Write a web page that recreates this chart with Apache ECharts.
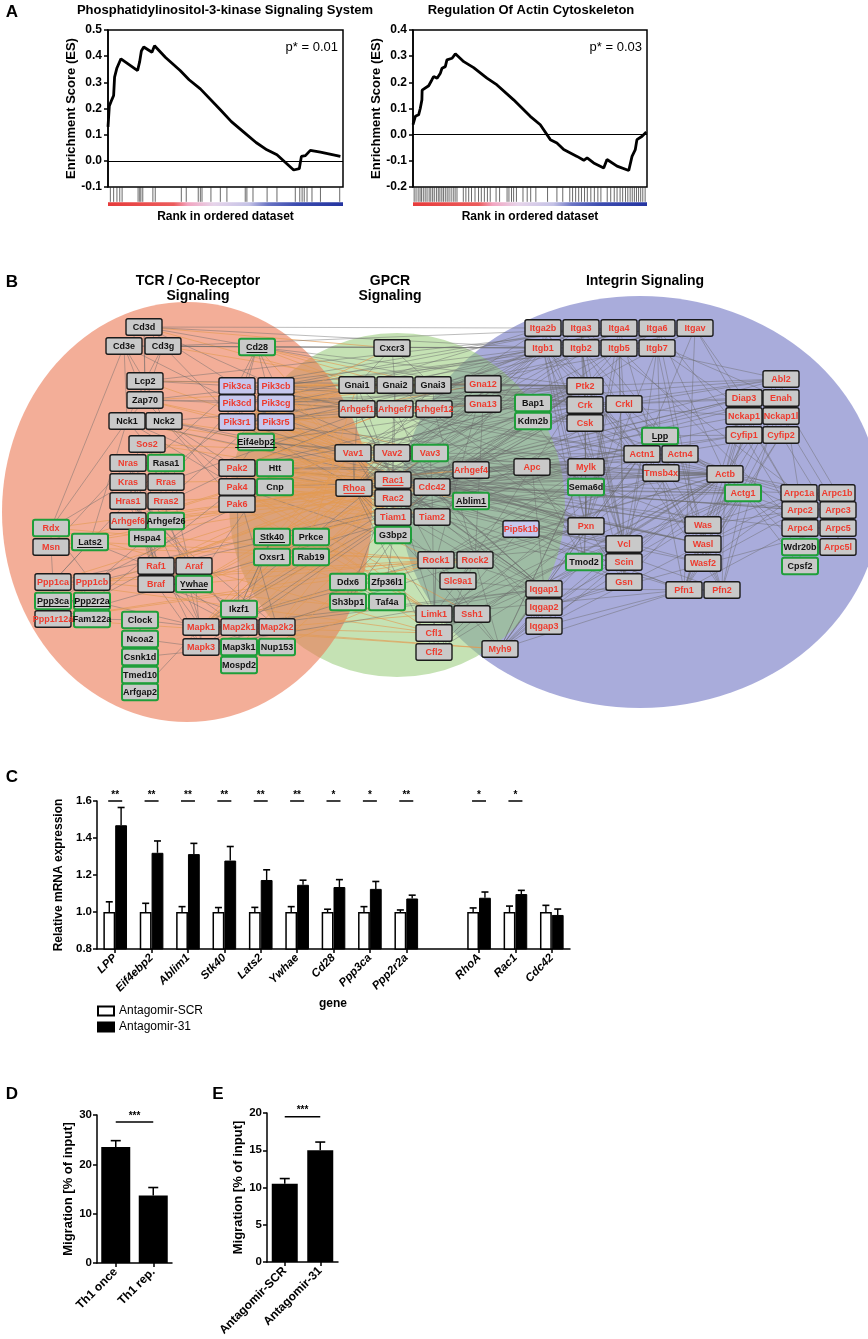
<!DOCTYPE html>
<html><head><meta charset="utf-8">
<script src="https://cdn.jsdelivr.net/npm/echarts@6/dist/echarts.min.js"></script>
<style>html,body{margin:0;padding:0;background:#fff}#c{width:868px;height:1339px}</style>
</head><body><div id="c"></div>
<script>
const FONT = "'Liberation Sans', Arial, sans-serif";

/* ---------- Panel A data ---------- */
const esRankLeft = [0,0.57,1.7,2.4,2.8,3.8,5.5,12.6,13.5,14.2,15.2,18.7,19.8,24.5,30.7,34.5,39.3,47.8,52.5,58.4,63.0,67.6,71.9,79.0,81.4,82.3,84.0,86.1,90.4,98.9];
const esLeft = [0.13,0.21,0.235,0.25,0.32,0.355,0.39,0.345,0.38,0.42,0.435,0.415,0.44,0.395,0.345,0.31,0.275,0.195,0.15,0.105,0.07,0.042,0.023,-0.035,-0.03,0.017,0.02,0.04,0.033,0.017];
const hitsLeft = [1.0,2.4,3.8,5.0,6.0,12.8,13.5,14.0,14.8,19.1,20.1,31.2,33.3,38.4,39.3,40.0,43.8,47.8,50.6,58.4,59.1,61.7,67.7,71.9,79.7,81.6,82.6,83.5,84.7,86.8,90.4,98.6];
const esRankRight = [0,1,2.4,3.1,3.8,3.9,6.7,8.1,8.8,10.3,11.7,12.4,13.8,14.5,16.7,18.1,21.7,25.9,31.6,35.9,43.0,50.1,54.4,58.7,61.5,64.4,70.1,73.0,74.4,77.2,81.5,82.9,87.2,92.2,93.6,95.0,95.7,97.9,99.7];
const esRight = [0.038,0.07,0.076,0.10,0.133,0.17,0.187,0.21,0.222,0.216,0.235,0.254,0.26,0.286,0.292,0.309,0.279,0.256,0.216,0.19,0.133,0.07,0.038,-0.019,-0.032,-0.057,-0.083,-0.098,-0.089,-0.108,-0.127,-0.095,-0.12,-0.137,-0.083,-0.057,-0.019,-0.006,0.01];
const hitsRight = [0.5,1.3,2.2,3.0,3.6,4.4,5.2,6.0,6.9,7.6,8.4,9.1,10.0,10.8,11.5,12.3,13.0,13.8,14.6,15.4,16.3,17.2,18.0,18.8,21.5,22.6,23.8,25.0,26.5,28.0,29.2,30.5,31.8,33.0,35.5,37.0,40.2,41.0,42.1,43.0,44.2,47.0,48.8,50.3,52.5,57.5,61.5,64.0,67.0,68.2,69.5,70.8,72.0,73.3,74.5,76.0,77.5,79.0,80.3,83.0,84.5,86.0,87.2,88.5,89.6,90.8,91.8,92.8,93.7,94.6,95.5,96.4,97.3,98.2,99.2];
const pLeft = 'p* = 0.01', pRight = 'p* = 0.03';

/* ---------- Panel B data (network) ---------- */
// name  x  y  flags (r = red label, g = green frame, p = PI3K lilac, u = underlined)
const tcrNodes = ['Cd3d 144 327','Cd3e 124 346','Cd3g 163 346','Cd28 257 347 gu','Lcp2 145 381','Zap70 145 400','Nck1 127 421','Nck2 164 421',
'Pik3ca 237 386 rp','Pik3cb 276 386 rp','Pik3cd 237 403 rp','Pik3cg 276 403 rp','Pik3r1 237 422 rp','Pik3r5 276 422 rp','Eif4ebp2 256 442 gu',
'Sos2 147 444 r','Nras 128 463 r','Rasa1 166 463 g','Kras 128 482 r','Rras 166 482 r','Hras1 128 501 r','Rras2 166 501 r',
'Pak2 237 468 r','Htt 275 468 g','Pak4 237 487 r','Cnp 275 487 g','Pak6 237 504 r','Arhgef6 128 521 r','Arhgef26 166 521 g',
'Rdx 51 528 rg','Msn 51 547 r','Lats2 90 542 gu','Hspa4 147 538 g','Stk40 272 537 gu','Oxsr1 272 557 g','Prkce 311 537 g','Rab19 311 557 g',
'Raf1 156 566 r','Araf 194 566 r','Braf 156 584 r','Ywhae 194 584 gu','Ppp1ca 53 582 r','Ppp1cb 92 582 r','Ppp3ca 53 601 gu','Ppp2r2a 92 601 gu',
'Ppp1r12a 53 619 r','Fam122a 92 619 g','Clock 140 620 g','Ncoa2 140 639 g','Csnk1d 140 657 g','Tmed10 140 675 g','Arfgap2 140 692 g',
'Ikzf1 239 609 g','Mapk1 201 627 r','Map2k1 239 627 r','Map2k2 277 627 r','Mapk3 201 647 r','Map3k1 239 647 g','Nup153 277 647 g','Mospd2 239 665 g'];
const gpcrNodes = ['Cxcr3 392 348','Gnai1 357 385','Gnai2 395 385','Gnai3 433 385','Gna12 483 384 r','Gna13 483 404 r','Arhgef1 357 409 r','Arhgef7 395 409 r','Arhgef12 434 409 r',
'Vav1 353 453 r','Vav2 392 453 r','Vav3 430 453 rg','Arhgef4 471 470 r','Rac1 393 480 ru','Rhoa 354 488 ru','Cdc42 432 487 r','Ablim1 471 501 gu',
'Rac2 393 498 r','Tiam1 393 517 r','Tiam2 432 517 r','G3bp2 393 535 g','Rock1 436 560 r','Rock2 475 560 r','Slc9a1 458 581 r',
'Ddx6 348 582 g','Zfp36l1 387 582 g','Sh3bp1 348 602 g','Taf4a 387 602 g','Limk1 434 614 r','Ssh1 472 614 r','Cfl1 434 633 r','Cfl2 434 652 r','Myh9 500 649 r'];
const integrinNodes = ['Bap1 533 403 g','Kdm2b 533 421 g','Apc 532 467 r','Pip5k1b 521 529 rp','Iqgap1 544 589 r','Iqgap2 544 607 r','Iqgap3 544 626 r',
'Itga2b 543 328 r','Itga3 581 328 r','Itga4 619 328 r','Itga6 657 328 r','Itgav 695 328 r','Itgb1 543 348 r','Itgb2 581 348 r','Itgb5 619 348 r','Itgb7 657 348 r',
'Ptk2 585 386 r','Crk 585 405 r','Csk 585 423 r','Crkl 624 404 r','Abl2 781 379 r','Diap3 744 398 r','Enah 781 398 r','Nckap1 744 416 r','Nckap1l 781 416 r',
'Cyfip1 744 435 r','Cyfip2 781 435 r','Lpp 660 436 gu','Actn1 642 454 r','Actn4 680 454 r','Tmsb4x 661 473 r','Actb 725 474 r','Actg1 743 493 rg',
'Mylk 586 467 r','Sema6d 586 487 g','Arpc1a 799 493 r','Arpc1b 837 493 r','Arpc2 800 510 r','Arpc3 838 510 r','Arpc4 800 528 r','Arpc5 838 528 r',
'Wdr20b 800 547 g','Arpc5l 838 547 r','Cpsf2 800 566 g','Pxn 586 526 r','Vcl 624 544 r','Scin 624 562 r','Gsn 624 582 r','Tmod2 584 562 g',
'Was 703 525 r','Wasl 703 544 r','Wasf2 703 563 r','Pfn1 684 590 r','Pfn2 722 590 r'];
const edgeLists = [
'Cd3d: Cd3e Cd3g Lcp2 Zap70 Cd28 Pik3ca Pik3cb Gnai1 Cxcr3 Itga2b Itgb1',
'Cd3e: Lcp2 Nck1 Zap70 Cd28 Pik3cd Itgb2',
'Cd3g: Lcp2 Zap70 Cd28 Pik3r1 Gnai2 Itga4',
'Cd28: Pik3ca Pik3cb Pik3cd Pik3r1 Pik3r5 Gnai1 Gnai2 Gnai3 Itgb1 Itgb2 Vav1 Crk Ptk2',
'Lcp2: Zap70 Nck1 Nck2 Vav1 Pik3ca Gnai1 Itga4 Ptk2',
'Zap70: Nck1 Nck2 Vav1 Vav2 Pik3cd Gnai3 Itgb5 Crk',
'Nck1: Sos2 Pak2 Pak4 Rdx Vav1 Rac1 Wasl Lats2',
'Nck2: Pak2 Pak4 Pak6 Vav2 Was Wasl Ptk2',
'Pik3ca: Rac1 Vav1 Gnai1 Gna12 Ptk2 Crk Actn1 Itgb1 Actb Vcl Itga3',
'Pik3cb: Gnai2 Gnai3 Rac2 Arhgef1 Itga3 Itgb2 Crkl',
'Pik3cd: Vav2 Rac1 Cdc42 Arhgef7 Pxn Ptk2 Itga6 Vav1 Vav3 Rac2',
'Pik3cg: Gnai1 Gnai2 Gnai3 Rhoa Cxcr3 Itgav Csk',
'Pik3r1: Vav3 Rac1 Tiam1 Ptk2 Crk Itgb7 Abl2 Actb Cdc42 Rhoa Iqgap1 Pxn',
'Pik3r5: Gna12 Gna13 Rac2 Arhgef12 Itgb5',
'Eif4ebp2: Rac1 Pak2 Bap1 Mylk Apc',
'Sos2: Nras Kras Hras1 Rras Raf1 Vav1 Rac1 Mapk1',
'Nras: Raf1 Araf Braf Mapk1 Rasa1 Msn',
'Kras: Raf1 Braf Map2k1 Rdx Pik3ca',
'Hras1: Raf1 Araf Map2k2 Ppp1ca Pik3cb',
'Rras: Pik3cd Rac1 Itgb1',
'Rras2: Pik3cg Cdc42',
'Rasa1: Hras1 Arhgef26 Ywhae',
'Pak2: Rac1 Cdc42 Limk1 Rac2 Vav2 Rock1 Pxn Crk Ptk2 Itgb1 Actb Arpc2 Vav1 Vav3 Rhoa Tiam2 Arhgef7',
'Pak4: Cdc42 Limk1 Rhoa Arhgef4 Ssh1 Vav3 Ptk2 Iqgap1 Actb Rac1 Rac2 Tiam1',
'Pak6: Rac1 Limk1 Cfl1 Tiam1 Cdc42 Vav1 Rhoa',
'Htt: Ablim1 Apc Ywhae Vav2 Rac2 Cdc42',
'Cnp: Arhgef4 Tiam2 Rac1 Rhoa Tiam1',
'Arhgef6: Rac1 Cdc42 Pak2 Rac2 Vav1',
'Arhgef26: Rhoa Ppp1r12a',
'Rdx: Msn Rhoa Cd3e Ppp1cb Rock1 Cfl1',
'Msn: Rhoa Rock2 Ppp1ca Vav1 Cdc42',
'Lats2: Ywhae Rock1 Ppp1ca',
'Hspa4: Raf1 Mapk3',
'Stk40: Ikzf1 Map2k1 Vav1 Rac1 Rhoa Tiam1',
'Oxsr1: Prkce Rab19 Ddx6',
'Prkce: Rac1 Gnai1 Vav3 Rhoa Cdc42 Rac2 Limk1',
'Raf1: Map2k1 Map2k2 Mapk1 Ywhae Rac1 Rhoa Rac2 Vav2',
'Araf: Map2k1 Braf Mapk3',
'Braf: Map2k1 Map2k2 Mapk3 Ywhae',
'Ywhae: Rac1 Rhoa Rock1 Cdc42 Tiam1',
'Ppp1ca: Ppp1cb Rhoa Rock1 Mylk Ppp1r12a Cfl1',
'Ppp1cb: Ppp1r12a Rock2 Mylk Limk1',
'Ppp3ca: Ppp2r2a Cnp Rac1',
'Ppp2r2a: Mapk1 Raf1 Pak4',
'Ppp1r12a: Rock1 Rock2 Myh9 Mylk',
'Fam122a: Ppp2r2a Clock',
'Clock: Ncoa2 Csnk1d Mapk1',
'Ncoa2: Csnk1d Mapk3',
'Csnk1d: Tmed10 Map3k1',
'Arfgap2: Tmed10 Mapk1',
'Mapk1: Map2k1 Map2k2 Mapk3 Vav1 Ptk2 Pxn Myh9 Iqgap1 Cfl1 Actb Itgb1 Crk Rac2 Rac1 Rhoa Vav2 Tiam1',
'Map2k1: Mapk3 Map3k1 Rac1 Pak2 Iqgap1',
'Map2k2: Mapk3 Map3k1 Pak4 Cdc42 Rac1 Rock1 Limk1',
'Mapk3: Ptk2 Pxn Iqgap1',
'Map3k1: Mospd2 Nup153 Rac1',
'Ikzf1: Map2k1 Stk40',
'Nup153: Taf4a Ddx6',
'Cxcr3: Gnai1 Gnai2 Gnai3',
'Gnai1: Arhgef1 Gna12 Rac1 Ptk2 Itgb1 Pik3r1 Pik3r5 Vav3 Itga2b',
'Gnai2: Arhgef7 Gna13 Vav2 Pxn Itga4',
'Gnai3: Arhgef12 Gna12 Rhoa Crk Itgb2',
'Gna12: Arhgef1 Arhgef12 Rhoa Rock1 Itga3 Ptk2',
'Gna13: Arhgef1 Arhgef12 Rhoa Rock2 Ptk2 Csk',
'Arhgef1: Rhoa Rac1 Rock1',
'Arhgef7: Rac1 Cdc42 Pak2 Pxn Ptk2 Itgb1 Actn1 Was',
'Arhgef12: Rhoa Rock2 Gna13',
'Vav1: Rac1 Rac2 Rhoa Cdc42 Tiam1 Itgb2 Crk Actb Itga2b Itgb1 Ptk2 Pxn Actn1 Iqgap1 Pak4 Pik3cb',
'Vav2: Rac1 Rhoa Cdc42 Iqgap1 Itga4',
'Vav3: Rac1 Rhoa Cdc42 Crkl Itgb1',
'Arhgef4: Cdc42 Apc Actn1',
'Rac1: Rac2 Cdc42 Tiam1 Tiam2 Pak2 Iqgap1 Iqgap2 Wasf2 Cyfip1 Nckap1 Arpc2 Pip5k1b Ptk2 Crk Limk1 Actb Itgb2 Itga4 Abl2 Diap3 Enah Was Wasl Arpc1a Pfn1 Actn4 Tmsb4x Vcl',
'Rhoa: Rock1 Rock2 Limk1 Pip5k1b Diap3 Mylk Actg1 Cfl2 Myh9 Itgb1 Itga3 Itga6 Ptk2 Vcl Actb Actn1 Pfn1 Gsn',
'Cdc42: Was Wasl Iqgap1 Iqgap3 Pak4 Arpc3 Limk1 Enah Diap3 Itgb1 Ptk2 Crk Pxn Actb Actg1 Cyfip1 Arpc4 Pfn2',
'Ablim1: Actb Actg1 Lpp',
'Rac2: Tiam1 Cyfip2 Nckap1l Wasf2',
'Tiam1: Tiam2 Rac1 Apc Ptk2 Crk Actb Itgb5',
'Tiam2: Crkl Iqgap1',
'G3bp2: Ddx6 Zfp36l1',
'Pip5k1b: Vcl Gsn Scin Pfn1 Cfl1',
'Rock1: Limk1 Mylk Myh9 Cfl1 Actb Slc9a1 Pxn Vcl Actn1 Tmsb4x Mapk1',
'Rock2: Limk1 Myh9 Cfl2 Slc9a1 Mylk',
'Slc9a1: Ptk2 Iqgap1',
'Ddx6: Zfp36l1 Sh3bp1 Taf4a',
'Sh3bp1: Rac1 Cdc42',
'Limk1: Cfl1 Cfl2 Ssh1 Actb Actg1 Pfn1 Tmsb4x',
'Ssh1: Cfl1 Cfl2 Actb',
'Cfl1: Actb Actg1 Actn1',
'Cfl2: Actb Actn4',
'Myh9: Actb Actg1 Iqgap1 Mylk Tmod2 Pfn1 Actn1 Pxn Vcl Iqgap2',
'Iqgap1: Actb Rac1 Cdc42 Vcl Pfn2 Actn1',
'Iqgap2: Actg1 Arpc5 Gsn',
'Iqgap3: Actb Pfn1 Wasl',
'Itga2b: Itgb1 Itgb2 Ptk2 Actn1 Vcl Pxn Abl2',
'Itga3: Itgb1 Ptk2 Crk Vcl Actn4 Arpc1a',
'Itga4: Itgb1 Itgb7 Pxn Crkl Tmsb4x Enah',
'Itga6: Itgb1 Itgb5 Ptk2 Lpp Actb Cyfip1 Wasl',
'Itgav: Itgb5 Itgb7 Ptk2 Actn1 Arpc2 Diap3 Pfn1',
'Itgb1: Ptk2 Actn1 Vcl Pxn Csk Actg1 Tmod2',
'Itgb2: Actn4 Vcl Crk Scin Was',
'Itgb5: Ptk2 Vcl Pxn Arpc4 Gsn',
'Itgb7: Pxn Actn1 Cyfip2 Wasf2',
'Ptk2: Crk Crkl Csk Pxn Vcl Actn1 Abl2 Wasl Pfn2 Vav2 Vav3 Rac2 Gna12 Map2k1 Pik3cg',
'Crk: Crkl Abl2 Pxn Actb Diap3 Nckap1 Rac2',
'Crkl: Pxn Abl2 Wasf2 Enah',
'Csk: Pxn Actb Tmsb4x Gsn',
'Bap1: Kdm2b Actn1',
'Kdm2b: Sema6d',
'Apc: Mylk Actb Iqgap1 Tmod2',
'Mylk: Actb Actg1 Myh9',
'Sema6d: Tmod2 Pxn',
'Abl2: Enah Diap3 Nckap1 Actb Arpc1a',
'Diap3: Enah Actb Pfn1 Cyfip1',
'Enah: Actb Pfn1 Pfn2 Arpc1b Was',
'Nckap1: Cyfip1 Nckap1l Wasf2 Arpc2 Actb',
'Nckap1l: Cyfip2 Wasf2 Arpc3',
'Cyfip1: Cyfip2 Wasf2 Arpc4 Pfn1',
'Cyfip2: Wasf2 Arpc5 Actg1',
'Lpp: Actn1 Actn4 Vcl Actb Cyfip1',
'Actn1: Actn4 Vcl Actb Pxn Tmsb4x Gsn',
'Actn4: Actb Vcl Pfn2 Arpc1a',
'Tmsb4x: Actb Actg1 Pfn1 Pfn2',
'Actb: Actg1 Arpc1a Arpc1b Arpc2 Arpc3 Pfn1 Pfn2 Gsn Scin Tmod2 Wdr20b',
'Actg1: Arpc4 Arpc5 Pfn1 Pfn2 Was Wasl Cpsf2',
'Arpc1a: Arpc1b Arpc2 Was Wasl Wasf2',
'Arpc1b: Arpc3 Wasl',
'Arpc2: Arpc3 Arpc4 Wasf2 Was',
'Arpc3: Arpc5 Arpc5l',
'Arpc4: Arpc5 Wdr20b Pfn1',
'Arpc5: Arpc5l',
'Arpc5l: Wdr20b',
'Wdr20b: Cpsf2',
'Was: Wasl Wasf2 Pfn1',
'Wasl: Wasf2 Pfn2',
'Wasf2: Pfn1',
'Pxn: Vcl Tmod2 Gsn',
'Vcl: Scin Gsn Tmod2',
'Scin: Gsn',
'Pfn1: Pfn2'];
// signalling module areas: name, centre x, centre y, radius x, radius y
const modules = [['Integrin',640,502,240,206],['GPCR',397,505,168,172],['TCR',187,512,185,210]];

/* ---------- Panel C data ---------- */
const genes = ['LPP','Eif4ebp2','Ablim1','Stk40','Lats2','Ywhae','Cd28','Ppp3ca','Ppp2r2a','','RhoA','Rac1','Cdc42'];
const scrMean = [1,1,1,1,1,1,1,1,1,null,1,1,1];
const scrErr = [0.055,0.047,0.029,0.024,0.025,0.029,0.015,0.029,0.011,null,0.022,0.032,0.036];
const a31Mean = [1.469,1.32,1.313,1.278,1.173,1.147,1.135,1.125,1.073,null,1.077,1.097,0.984];
const a31Err = [0.096,0.064,0.058,0.076,0.055,0.025,0.04,0.04,0.018,null,0.031,0.02,0.032];
const sigC = ['**','**','**','**','**','**','*','*','**','','*','*',''];

/* ---------- Panels D / E data ---------- */
const dCats = ['Th1 once','Th1 rep.'];
const dMean = [23.5,13.7];
const dErr = [1.3,1.6];
const dSig = ['***',28.6];
const eCats = ['Antagomir-SCR','Antagomir-31'];
const eMean = [10.5,15.0];
const eErr = [0.7,1.1];
const eSig = ['***',19.5];

/* ---------- build ---------- */
function parseNodes(list, group){
  return list.map(s => { const p = s.split(' '); return {name:p[0], x:+p[1], y:+p[2], f:p[3]||'', group}; });
}
const nodes = [...parseNodes(tcrNodes,'T'), ...parseNodes(gpcrNodes,'G'), ...parseNodes(integrinNodes,'I')];
const byName = {}; nodes.forEach(n => byName[n.name] = n);
const edges = [];
edgeLists.forEach(line => {
  const [s, rest] = line.split(':'); const a = byName[s.trim()];
  rest.trim().split(/\s+/).forEach(t => {
    const b = byName[t];
    if (!a || !b) { console.log('missing', s, t); return; }
    const orange = ((a.group==='T'&&b.group==='G')||(a.group==='G'&&b.group==='T')) ? 1 : 0;
    edges.push([a.x, a.y, b.x, b.y, orange]);
  });
});
const moduleFill = {TCR:'rgba(235,120,83,0.6)', GPCR:'rgba(150,203,118,0.55)', Integrin:'rgba(112,117,195,0.6)'};

const black = '#000';
const lineSt = {color:black, width:1.5};
const boldTxt = (size) => ({color:black, fontFamily:FONT, fontWeight:'bold', fontSize:size});
const stripGradient = {type:'linear', x:0, y:0, x2:1, y2:0, colorStops:[
  {offset:0,color:'#e63b3b'},{offset:0.28,color:'#ec5c5c'},{offset:0.34,color:'#f2a4c0'},{offset:0.45,color:'#e6d4ea'},
  {offset:0.6,color:'#c4c2e6'},{offset:0.68,color:'#6a74c4'},{offset:0.8,color:'#3c4cb0'},{offset:1,color:'#2434a0'}]};

function esYAxis(grid, min, max){
  return {gridIndex:grid, type:'value', min, max, interval:0.1,
    axisLine:{show:true, lineStyle:lineSt}, axisTick:{show:true, length:4, lineStyle:lineSt},
    axisLabel:Object.assign(boldTxt(12), {margin:6, formatter:v=>v.toFixed(1)}), splitLine:{show:false},
    name:'Enrichment Score (ES)', nameLocation:'middle', nameGap:30, nameTextStyle:boldTxt(13)};
}
function rankXAxis(grid){
  return {gridIndex:grid, type:'value', min:0, max:100, axisLine:{show:false}, axisTick:{show:false}, axisLabel:{show:false},
    splitLine:{show:false}, name:'Rank in ordered dataset', nameLocation:'middle', nameGap:5, nameTextStyle:boldTxt(12)};
}
function hitSeries(x, y, hits){
  return {type:'custom', xAxisIndex:x, yAxisIndex:y, data:hits.map(h=>[h]), encode:{x:0}, silent:true,
    renderItem:(p, api) => { const a = api.coord([api.value(0), 1]); const b = api.coord([api.value(0), 0.22]);
      return {type:'line', shape:{x1:a[0], y1:a[1], x2:b[0], y2:b[1]}, style:{stroke:'#222', lineWidth:0.8, opacity:0.85}}; }};
}
function stripSeries(x, y){
  return {type:'custom', xAxisIndex:x, yAxisIndex:y, data:[[0,0,100,0.2]], encode:{x:[0,2], y:[1,3]}, silent:true,
    renderItem:(p, api) => { const a = api.coord([api.value(0), api.value(3)]); const b = api.coord([api.value(2), api.value(1)]);
      return {type:'rect', shape:{x:a[0], y:a[1], width:b[0]-a[0], height:b[1]-a[1]}, style:{fill:stripGradient}}; }};
}
function esSeries(x, y, ranks, vals){
  return {type:'line', xAxisIndex:x, yAxisIndex:y, data:ranks.map((r,i)=>[r, vals[i]]), symbol:'none',
    lineStyle:{color:black, width:2.8}, z:5,
    markLine:{silent:true, symbol:'none', label:{show:false}, lineStyle:{color:black, width:1, type:'solid'}, data:[{yAxis:0}]}};
}
function errSeries(x, y, means, errs, side, gapFrac){
  const data = [];
  means.forEach((m,i)=>{ if (m!=null) data.push([i, m, errs[i]]); });
  return {type:'custom', xAxisIndex:x, yAxisIndex:y, data, encode:{x:0, y:1}, z:6, silent:true,
    renderItem:(p, api) => {
      const cat = api.value(0), m = api.value(1), e = api.value(2);
      const slot = api.size([1,0])[0]; const bw = slot*(1-gapFrac)/2;
      const a = api.coord([cat, m]); const b = api.coord([cat, m+e]); const xx = a[0] + side*bw/2;
      return {type:'group', children:[
        {type:'line', shape:{x1:xx, y1:a[1], x2:xx, y2:b[1]}, style:{stroke:black, lineWidth:1.4}},
        {type:'line', shape:{x1:xx-3.5, y1:b[1], x2:xx+3.5, y2:b[1]}, style:{stroke:black, lineWidth:1.6}}]};
    }};
}
function singleErr(x, y, means, errs){
  return {type:'custom', xAxisIndex:x, yAxisIndex:y, data:means.map((m,i)=>[i,m,errs[i]]), encode:{x:0,y:1}, z:6, silent:true,
    renderItem:(p, api) => { const a = api.coord([api.value(0), api.value(1)]); const b = api.coord([api.value(0), api.value(1)+api.value(2)]);
      return {type:'group', children:[
        {type:'line', shape:{x1:a[0], y1:a[1], x2:a[0], y2:b[1]}, style:{stroke:black, lineWidth:1.5}},
        {type:'line', shape:{x1:a[0]-5, y1:b[1], x2:a[0]+5, y2:b[1]}, style:{stroke:black, lineWidth:1.6}}]}; }};
}
function sigPair(x, y, sig){
  return {type:'custom', xAxisIndex:x, yAxisIndex:y, data:[[0, sig[1], 1]], encode:{x:0,y:1}, z:6, silent:true,
    renderItem:(p, api) => { const a = api.coord([0, api.value(1)]); const b = api.coord([1, api.value(1)]);
      return {type:'group', children:[
        {type:'line', shape:{x1:a[0], y1:a[1], x2:b[0], y2:b[1]}, style:{stroke:black, lineWidth:1.5}},
        {type:'text', x:(a[0]+b[0])/2, y:a[1]-1, style:{text:sig[0], font:'bold 10px '+FONT, fill:black, textAlign:'center', textVerticalAlign:'bottom', align:'center', verticalAlign:'bottom'}}]}; }};
}
function catXAxis(grid, cats, size, italic){
  return {gridIndex:grid, type:'category', data:cats, axisLine:{show:true, onZero:false, lineStyle:lineSt},
    axisTick:{show:true, alignWithLabel:true, length:4, lineStyle:lineSt, interval:(i, v)=>v!==''},
    axisLabel:Object.assign(boldTxt(size), {rotate:45, margin:7, interval:0, fontStyle:italic?'italic':'normal'})};
}
function valYAxis(grid, min, max, interval, name, gap, nameSize, fmt){
  return {gridIndex:grid, type:'value', min, max, interval, axisLine:{show:true, lineStyle:lineSt},
    axisTick:{show:true, length:4, lineStyle:lineSt}, splitLine:{show:false},
    axisLabel:Object.assign(boldTxt(11.5), {margin:5, formatter:fmt}),
    name, nameLocation:'middle', nameGap:gap, nameTextStyle:boldTxt(nameSize)};
}

const txt = (text, x, y, font, align) => ({type:'text', x, y, z:100, style:{text, font:font+' '+FONT, fill:black,
  textAlign:align||'center', textVerticalAlign:'middle', align:align||'center', verticalAlign:'middle'}});

const option = {
  animation:false,
  backgroundColor:'#fff',
  grid:[
    {left:108, top:30, width:235, height:157, show:true, borderColor:black, borderWidth:1.5, backgroundColor:'transparent'},
    {left:108, top:187, width:235, height:19},
    {left:413, top:30, width:234, height:157, show:true, borderColor:black, borderWidth:1.5, backgroundColor:'transparent'},
    {left:413, top:187, width:234, height:19},
    {left:0, top:0, width:868, height:1339},
    {left:97, top:801, width:473, height:148},
    {left:97, top:1115, width:75, height:148},
    {left:267, top:1113, width:71, height:149}
  ],
  xAxis:[
    {gridIndex:0, type:'value', min:0, max:100, show:false},
    rankXAxis(1),
    {gridIndex:2, type:'value', min:0, max:100, show:false},
    rankXAxis(3),
    {gridIndex:4, type:'value', min:0, max:868, show:false},
    catXAxis(5, genes, 11.5, true),
    catXAxis(6, dCats, 12, false),
    catXAxis(7, eCats, 12, false)
  ],
  yAxis:[
    esYAxis(0, -0.1, 0.5),
    {gridIndex:1, type:'value', min:0, max:1, show:false},
    esYAxis(2, -0.2, 0.4),
    {gridIndex:3, type:'value', min:0, max:1, show:false},
    {gridIndex:4, type:'value', min:0, max:1339, inverse:true, show:false},
    valYAxis(5, 0.8, 1.6, 0.2, 'Relative mRNA expression', 25, 12, v=>v.toFixed(1)),
    valYAxis(6, 0, 30, 10, 'Migration [% of input]', 20, 13, v=>String(v)),
    valYAxis(7, 0, 20, 5, 'Migration [% of input]', 22, 13, v=>String(v))
  ],
  legend:{data:['Antagomir-SCR','Antagomir-31'], orient:'vertical', left:92, top:1000, itemWidth:16, itemHeight:9, itemGap:4,
    icon:'rect', textStyle:{fontFamily:FONT, fontSize:12, color:black}, selectedMode:false},
  graphic:[
    txt('A', 12, 12, 'bold 17px'),
    txt('Phosphatidylinositol-3-kinase Signaling System', 225, 10, 'bold 13px'),
    txt('Regulation Of Actin Cytoskeleton', 531, 10, 'bold 13px'),
    txt(pLeft, 338, 47, '13px', 'right'),
    txt(pRight, 642, 47, '13px', 'right'),
    txt('B', 12, 282, 'bold 17px'),
    txt('TCR / Co-Receptor', 198, 281, 'bold 14px'),
    txt('Signaling', 198, 296, 'bold 14px'),
    txt('GPCR', 390, 281, 'bold 14px'),
    txt('Signaling', 390, 296, 'bold 14px'),
    txt('Integrin Signaling', 645, 281, 'bold 14px'),
    txt('C', 12, 777, 'bold 17px'),
    txt('gene', 333, 1004, 'bold 12px'),
    txt('D', 12, 1094, 'bold 17px'),
    txt('E', 218, 1094, 'bold 17px')
  ],
  series:[
    esSeries(0, 0, esRankLeft, esLeft),
    hitSeries(1, 1, hitsLeft), stripSeries(1, 1),
    esSeries(2, 2, esRankRight, esRight),
    hitSeries(3, 3, hitsRight), stripSeries(3, 3),
    // network: module areas
    {type:'custom', xAxisIndex:4, yAxisIndex:4, data:modules.map(m=>[m[1],m[2],m[3],m[4]]), encode:{x:0,y:1}, z:1, silent:true,
      renderItem:(p, api) => { const c = api.coord([api.value(0), api.value(1)]); const s = api.size([api.value(2), api.value(3)]);
        const rx = Math.abs(s[0]), ry = Math.abs(s[1]);
        return {type:'circle', x:c[0], y:c[1], scaleX:rx/ry, scaleY:1, shape:{cx:0, cy:0, r:ry}, style:{fill:moduleFill[modules[p.dataIndex][0]]}}; }},
    // network: edges
    {type:'custom', xAxisIndex:4, yAxisIndex:4, data:edges, encode:{x:[0,2], y:[1,3]}, z:2, silent:true, progressive:0,
      renderItem:(p, api) => { const a = api.coord([api.value(0), api.value(1)]); const b = api.coord([api.value(2), api.value(3)]);
        const o = api.value(4) === 1;
        return {type:'line', shape:{x1:a[0], y1:a[1], x2:b[0], y2:b[1]}, style:{stroke:o?'#e39a52':'#6a6a6a', lineWidth:0.75, opacity:o?0.85:0.6}}; }},
    // network: nodes
    {type:'custom', xAxisIndex:4, yAxisIndex:4, data:nodes.map(n=>[n.x, n.y]), encode:{x:0,y:1}, z:3, silent:true, progressive:0,
      renderItem:(p, api) => {
        const n = nodes[p.dataIndex]; const c = api.coord([api.value(0), api.value(1)]);
        const s = api.size([36, 16.5]); const w = Math.abs(s[0]), h = Math.abs(s[1]);
        const green = n.f.includes('g'), red = n.f.includes('r');
        const kids = [
          {type:'rect', shape:{x:c[0]-w/2, y:c[1]-h/2, width:w, height:h, r:2},
            style:{fill:n.f.includes('p')?'#c6c7ee':'#c9c9c9', stroke:green?'#1f9e3a':'#1b1b1b', lineWidth:green?2:1.4}},
          {type:'text', x:c[0], y:c[1]+0.5, style:{text:n.name, font:'bold 9px '+FONT, fill:red?'#ee3b2e':'#111',
            textAlign:'center', textVerticalAlign:'middle', align:'center', verticalAlign:'middle'}}];
        if (n.f.includes('u')) { const tw = n.name.length*5.2;
          kids.push({type:'line', shape:{x1:c[0]-tw/2, y1:c[1]+5.5, x2:c[0]+tw/2, y2:c[1]+5.5}, style:{stroke:red?'#ee3b2e':'#111', lineWidth:1}}); }
        return {type:'group', children:kids};
      }},
    // panel C
    {name:'Antagomir-SCR', type:'bar', xAxisIndex:5, yAxisIndex:5, data:scrMean.map(v=>v==null?'-':v), barCategoryGap:'35%', barGap:'0%',
      itemStyle:{color:'#fff', borderColor:black, borderWidth:1.5}, silent:true},
    {name:'Antagomir-31', type:'bar', xAxisIndex:5, yAxisIndex:5, data:a31Mean.map(v=>v==null?'-':v), barCategoryGap:'35%', barGap:'0%',
      itemStyle:{color:black, borderColor:black, borderWidth:1}, silent:true},
    errSeries(5, 5, scrMean, scrErr, -1, 0.35),
    errSeries(5, 5, a31Mean, a31Err, 1, 0.35),
    {type:'custom', xAxisIndex:5, yAxisIndex:5, data:sigC.map((s,i)=>[i, 1.6]).filter((d,i)=>sigC[i]!==''), encode:{x:0,y:1}, z:6, silent:true,
      renderItem:(p, api) => { const i = api.value(0); const a = api.coord([i, api.value(1)]);
        return {type:'group', children:[
          {type:'line', shape:{x1:a[0]-7, y1:a[1], x2:a[0]+7, y2:a[1]}, style:{stroke:black, lineWidth:1.5}},
          {type:'text', x:a[0], y:a[1]-0.5, style:{text:sigC[i], font:'bold 10px '+FONT, fill:black, textAlign:'center', textVerticalAlign:'bottom', align:'center', verticalAlign:'bottom'}}]}; }},
    // panel D
    {type:'bar', xAxisIndex:6, yAxisIndex:6, data:dMean, barWidth:29, itemStyle:{color:black}, silent:true},
    singleErr(6, 6, dMean, dErr), sigPair(6, 6, dSig),
    // panel E
    {type:'bar', xAxisIndex:7, yAxisIndex:7, data:eMean, barWidth:26, itemStyle:{color:black}, silent:true},
    singleErr(7, 7, eMean, eErr), sigPair(7, 7, eSig)
  ]
};
const chart = echarts.init(document.getElementById('c'), null, {renderer:'canvas'});
chart.setOption(option);
</script>
</body></html>
